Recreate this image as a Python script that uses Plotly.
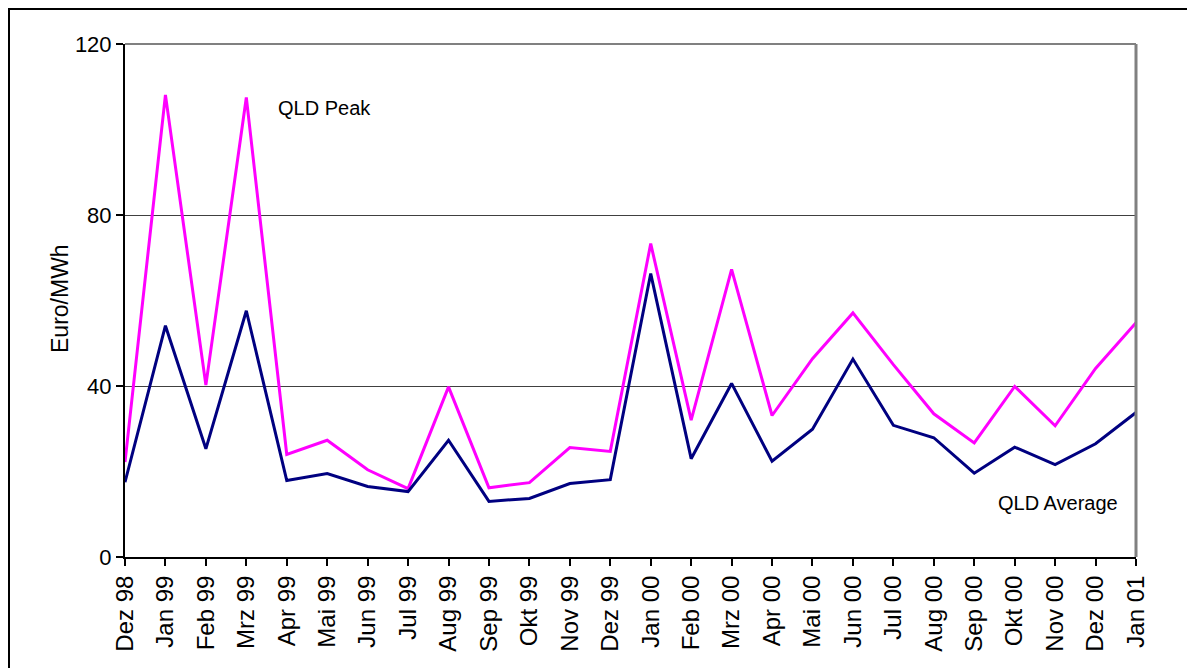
import plotly.graph_objects as go

months = ["Dez 98", "Jan 99", "Feb 99", "Mrz 99", "Apr 99", "Mai 99", "Jun 99", "Jul 99",
          "Aug 99", "Sep 99", "Okt 99", "Nov 99", "Dez 99", "Jan 00", "Feb 00", "Mrz 00",
          "Apr 00", "Mai 00", "Jun 00", "Jul 00", "Aug 00", "Sep 00", "Okt 00", "Nov 00",
          "Dez 00", "Jan 01"]
qld_peak = [22.2, 108.1, 40.2, 107.5, 24.0, 27.3, 20.4, 16.0, 39.8, 16.2, 17.4, 25.6, 24.7,
            73.3, 32.0, 67.3, 33.1, 46.4, 57.1, 45.0, 33.5, 26.7, 39.9, 30.7, 44.1, 54.8]
qld_avg = [17.5, 54.1, 25.3, 57.6, 17.9, 19.5, 16.5, 15.3, 27.3, 13.0, 13.7, 17.2, 18.1,
           66.3, 23.0, 40.6, 22.4, 29.9, 46.3, 30.8, 27.9, 19.6, 25.7, 21.6, 26.5, 33.8]
y_ticks = [0, 40, 80, 120]

FONT = "Liberation Sans, Arial, sans-serif"
x_idx = list(range(len(months)))

W, H = 1187, 660
L, R, T, B = 117, 59, 36, 111
PW, PH = W - L - R, H - T - B


def px_x(fx):
    return (fx - L) / PW


def px_y(fy):
    return (H - B - fy) / PH


fig = go.Figure()
fig.add_trace(go.Scatter(x=x_idx, y=qld_peak, mode="lines", name="QLD Peak",
                         line=dict(color="#FF00FF", width=3)))
fig.add_trace(go.Scatter(x=x_idx, y=qld_avg, mode="lines", name="QLD Average",
                         line=dict(color="#000080", width=3)))

fig.update_layout(
    width=W, height=H,
    margin=dict(l=L, r=R, t=T, b=B),
    paper_bgcolor="white", plot_bgcolor="white",
    showlegend=False,
    font=dict(family=FONT, size=22, color="black"),
    xaxis=dict(
        range=[0, len(months) - 1], tickmode="array", tickvals=x_idx, ticktext=months,
        tickangle=-90, ticks="outside", ticklen=7, tickcolor="black", tickwidth=1.5,
        showline=True, linecolor="black", linewidth=2, showgrid=False, zeroline=False,
        tickfont=dict(size=24, family=FONT),
    ),
    yaxis=dict(
        range=[0, 120], tickmode="array", tickvals=y_ticks,
        ticks="outside", ticklen=7, tickcolor="black", tickwidth=1.5,
        showline=True, linecolor="black", linewidth=2,
        showgrid=True, gridcolor="#404040", gridwidth=1, zeroline=False,
        tickfont=dict(size=22, family=FONT),
    ),
    annotations=[
        dict(x=0.149, y=0.875, xref="paper", yref="paper", text="QLD Peak",
             showarrow=False, xanchor="left", yanchor="middle",
             font=dict(size=20, family=FONT)),
        dict(x=0.984, y=0.105, xref="paper", yref="paper", text="QLD Average",
             showarrow=False, xanchor="right", yanchor="middle",
             font=dict(size=20, family=FONT)),
        dict(x=px_x(52), y=px_y(291), xref="paper", yref="paper", text="Euro/MWh",
             showarrow=False, textangle=-90, xanchor="center", yanchor="middle",
             font=dict(size=23, family=FONT)),
    ],
    shapes=[
        dict(type="line", xref="paper", yref="paper", x0=0, x1=1, y0=1, y1=1,
             line=dict(color="#808080", width=2)),
        dict(type="line", xref="paper", yref="paper", x0=1, x1=1, y0=0, y1=1,
             line=dict(color="#808080", width=3)),
        dict(type="rect", xref="paper", yref="paper",
             x0=px_x(0.5), x1=px_x(1182), y0=px_y(H + 40), y1=px_y(0.5),
             line=dict(color="black", width=3), fillcolor="rgba(0,0,0,0)", layer="above"),
    ],
)

fig.write_html("out.html")
